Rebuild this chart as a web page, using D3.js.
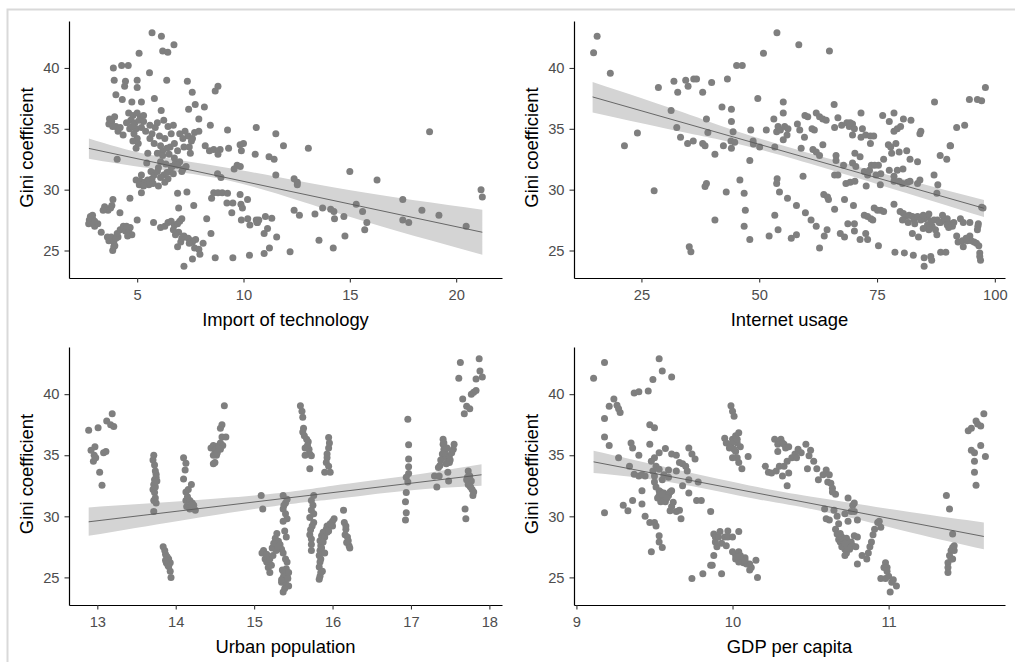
<!DOCTYPE html>
<html>
<head>
<meta charset="utf-8">
<script src="https://cdn.jsdelivr.net/npm/d3@7"></script>
<style>
  body { margin: 0; background: #fff; }
  svg { display: block; font-family: "Liberation Sans", Arial, sans-serif; }
</style>
</head>
<body>
<svg id="chart" width="1015" height="662"></svg>
<script>
// ---------------- DATA ----------------
const yTitle = "Gini coefficient";
const giniTicks = [25, 30, 35, 40];

const techTitle = "Import of technology";
const techTicks = [5, 10, 15, 20];
const techData = [
  [5.70,42.9],[6.14,42.6],[6.20,41.4],[6.44,41.3],[6.73,41.9],[5.09,41.2],
  [3.88,40.0],[4.27,40.2],[4.58,40.2],[5.58,39.6],[3.92,39.0],[4.45,38.9],[4.41,38.5],[5.0,39.0],[5.0,38.4],[6.39,39.0],[7.36,38.9],[7.59,38.0],[8.8,38.5],[8.67,38.1],
  [4.0,37.8],[4.3,37.4],[4.75,37.2],[5.81,37.5],[5.2,37.2],[7.42,36.6],[7.73,37.0],[8.16,36.8],[6.13,36.5],[7.9,35.8],[8.44,35.3],[9.25,34.9],[10.6,35.1],
  [3.7,35.8],[3.67,35.4],[3.94,36.0],[3.8,35.6],[4.0,35.2],[4.2,35.1],[4.1,34.8],[4.34,34.5],
  [4.6,36.3],[4.8,36.1],[5.0,36.3],[5.15,36.0],[4.7,35.7],[4.9,35.5],[5.1,35.7],[5.3,35.6],[4.95,35.0],[5.2,35.1],[4.65,35.0],[4.85,34.6],[5.0,34.2],[4.8,34.0],[5.05,33.8],[4.95,33.4],
  [5.3,36.1],[4.75,35.2],[5.6,34.2],[6.2,33.2],[6.55,33.5],[5.4,34.8],[6.8,32.2],[7.25,34.8],[6.0,31.8],[5.2,31.2],[5.7,30.9],[6.25,31.2],[4.5,35.5],[3.85,35.2],
  [5.6,35.3],[5.85,35.1],[5.95,35.5],[6.25,35.7],[6.45,35.2],[6.7,35.3],[5.7,34.6],[6.05,34.4],[6.3,34.2],[6.6,34.6],[5.8,33.8],[6.1,33.6],[6.4,33.4],[6.75,33.8],[5.95,33.0],[6.2,32.8],[6.5,32.9],[6.75,32.6],[6.1,32.3],[6.35,32.1],[6.6,31.9],[5.5,33.0],[5.45,32.2],[4.06,32.5],
  [7.0,34.6],[7.15,34.2],[7.4,34.4],[7.55,34.0],[7.7,34.7],[7.9,34.8],[7.2,33.5],[7.45,33.5],[6.9,33.2],[7.5,33.0],[7.0,32.3],[7.15,31.7],[7.3,31.9],[7.6,34.2],
  [8.2,33.6],[8.4,33.2],[8.6,33.3],[8.9,33.3],[8.8,32.9],[9.3,33.4],[9.84,33.7],[10.0,33.8],[9.9,33.2],[10.55,32.9],[9.7,32.0],[9.85,31.9],[9.56,31.7],[8.78,31.3],[8.94,31.0],
  [4.95,30.8],[5.15,30.7],[5.35,30.6],[5.5,30.8],[5.1,30.4],[5.65,31.5],[5.8,31.2],[5.95,31.5],[6.1,31.0],[6.3,30.6],[6.45,30.9],[5.75,30.5],[6.0,30.3],[5.55,30.4],[5.3,30.3],[6.55,31.5],[6.65,31.9],[6.4,31.4],[6.7,31.3],[6.9,32.0],[7.1,31.5],[5.2,29.75],[4.66,29.3],
  [3.86,29.2],[3.81,28.7],[3.75,28.5],[3.63,28.3],[4.19,28.1],[3.47,28.6],[3.4,28.3],
  [2.8,27.8],[2.9,27.6],[2.75,27.5],[2.72,27.2],[2.95,27.2],[3.0,27.0],[3.15,27.2],[2.9,27.9],[3.0,27.4],
  [3.31,26.5],[3.6,26.1],[3.67,25.8],[3.78,26.1],[3.9,25.7],[4.0,26.0],[4.1,26.1],[3.95,25.4],[3.85,25.0],[3.9,25.3],[4.06,26.4],[4.2,26.7],[4.35,27.0],[4.45,26.6],[4.6,26.6],[4.67,26.9],[4.75,26.3],[4.55,26.2],[4.5,27.0],
  [5.0,27.5],[5.77,27.3],
  [6.1,26.9],[6.3,27.0],[6.45,27.3],[6.6,27.4],[6.75,27.1],[6.9,27.2],[7.0,27.4],[7.1,27.6],[6.95,26.5],[6.8,26.3],[6.7,26.7],[6.9,25.3],[7.05,25.7],[7.1,26.0],[7.2,26.2],
  [6.9,29.7],[7.34,29.8],[6.95,28.5],[7.66,28.7],[8.5,29.3],[8.6,29.75],[8.8,29.75],[9.0,29.75],[9.25,29.7],[9.22,28.9],[9.45,28.1],[9.5,28.9],[9.84,29.6],[10.19,29.2],[9.88,28.8],[9.95,28.5],[9.9,27.5],[10.2,27.6],[10.3,27.1],[10.6,27.5],[10.66,27.3],[8.27,27.6],[8.47,26.4],
  [7.4,26.0],[7.55,25.8],[7.75,25.9],[7.6,25.7],[7.45,25.6],[7.7,25.2],[7.9,25.1],[7.95,24.7],[7.6,24.3],[8.1,25.6],[7.2,23.7],[8.67,24.4],[9.5,24.4],[10.28,24.6],
  [11.52,34.6],[11.88,33.6],[13.05,33.4],[11.2,32.7],[11.44,32.5],[11.52,31.2],[12.38,30.9],[12.53,30.6],[12.53,30.4],[15.0,31.5],[16.28,30.8],[18.75,34.75],[17.49,29.2],[18.39,28.3],[19.19,27.9],[21.23,29.4],[21.17,30.0],[20.47,27.0],[15.3,28.8],[15.6,28.2],[15.8,27.3],[15.7,26.7],[17.49,27.5],[17.77,27.3],[13.72,28.5],[14.1,28.4],[14.25,28.2],[13.36,28.0],[14.28,27.6],[14.72,27.8],[12.38,28.3],[12.63,27.9],[11.03,27.8],[11.33,27.65],[10.63,27.3],[10.72,27.5],[11.13,26.8],[10.97,26.4],[11.56,26.1],[13.55,25.85],[14.77,26.2],[11.22,25.2],[10.97,24.75],[12.19,24.9],[14.22,25.2]
];
// fitted line (end points) and its confidence band
const techFitX = [2.73, 21.23];
const techFitY = [33.39, 26.5];
const techBandX = [2.73, 5.66, 9.88, 15.03, 21.23];
const techBandLo = [32.55, 31.75, 30.5, 27.75, 24.65];
const techBandHi = [34.2, 32.84, 31.6, 29.95, 28.35];

const netTitle = "Internet usage";
const netTicks = [25, 50, 75, 100];
const netData = [
  [14.85,41.26],[15.6,42.6],[18.4,39.56],[28.6,38.4],[21.4,33.6],[24.15,34.65],[27.7,29.9],
  [31.9,38.9],[32.7,38.0],[34.4,39.0],[34.9,38.5],[36.1,39.1],[36.7,39.1],[38.0,38.0],[39.9,38.8],
  [31.3,36.5],[32.5,35.1],[33.3,34.3],[34.8,33.8],[36.0,34.0],[38.0,33.8],[38.5,33.6],[38.8,35.8],[39.1,34.7],[40.6,32.9],
  [43.25,39.1],[45.2,40.2],[46.4,40.2],[42.1,36.8],[44.1,36.6],[44.1,35.6],[44.45,34.75],[44.0,34.0],[44.1,33.4],[44.8,33.9],[42.4,33.6],
  [48.2,34.9],[48.7,34.0],[48.75,33.75],[48.0,32.4],[45.9,30.8],[43.0,29.8],[46.8,29.7],[47.05,28.3],[38.8,30.5],[38.5,30.25],[40.6,27.5],[46.8,27.0],[48.0,25.9],[35.15,25.3],[35.5,24.9],
  [49.7,37.5],[50.9,41.2],[50.1,33.5],
  [53.76,42.9],[58.4,41.9],[64.9,41.4],[55.1,37.2],[65.9,37.0],[87.2,37.2],[94.6,37.4],[96.3,37.4],[97.2,37.3],[98.0,38.4],
  [53.1,35.8],[55.1,36.3],[54.0,35.2],[53.7,34.75],[54.5,34.9],[55.4,35.2],[56.1,35.0],[51.5,34.9],[55.1,34.1],[55.9,34.5],
  [58.1,35.4],[58.6,34.9],[59.6,34.3],[59.7,36.1],[60.3,36.0],[62.1,36.3],[62.8,36.0],[63.5,35.8],[64.2,35.7],[61.2,35.0],[61.7,34.9],
  [66.0,35.1],[66.7,35.9],[67.5,35.3],[68.6,35.5],[69.1,35.2],[69.8,35.4],[70.2,35.0],[69.3,35.5],
  [71.6,36.3],[71.9,35.0],[69.8,34.5],[71.6,34.3],[72.6,34.5],[73.6,34.4],[74.3,34.4],[73.6,33.8],
  [76.2,36.1],[77.6,35.6],[78.6,36.3],[80.6,35.8],[82.2,35.7],[79.3,35.0],[80.0,35.2],[78.6,34.8],[84.3,34.8],[84.1,34.6],[91.9,35.1],[93.6,35.3],[90.5,33.6],
  [53.3,33.5],[58.9,33.4],[61.4,33.3],[62.1,33.1],[63.5,33.7],[62.8,32.8],[66.3,32.8],[66.3,32.4],[70.3,33.0],[71.4,32.7],
  [77.4,33.7],[77.9,33.5],[79.0,33.8],[78.1,33.0],[79.7,33.1],[81.3,33.2],[82.0,32.5],[83.6,32.3],[76.4,32.5],
  [67.9,32.0],[69.8,32.2],[70.5,31.9],[59.3,31.1],[66.0,31.2],[66.7,31.2],
  [72.3,31.5],[73.4,31.6],[73.8,32.0],[74.5,32.0],[75.3,32.0],[73.0,31.2],[72.7,30.3],[74.8,31.2],[75.7,30.4],[75.8,31.3],
  [68.4,30.5],[69.3,30.6],[70.3,30.7],[77.6,31.6],[78.6,31.1],[79.3,31.6],[80.5,31.7],
  [78.6,30.7],[79.7,30.7],[80.4,30.5],[81.5,30.6],[82.0,30.7],[83.6,30.5],[84.1,30.8],
  [87.1,31.2],[87.9,30.4],[87.7,29.7],[88.4,32.8],[89.8,32.5],[90.6,33.6],
  [53.8,30.9],[53.7,30.5],[54.3,29.8],[56.0,29.3],[57.9,28.7],[59.8,28.1],[61.0,27.5],[62.1,27.0],
  [63.7,29.6],[64.7,29.2],[64.5,29.4],[66.0,28.4],[68.1,29.2],[70.0,28.7],
  [53.3,27.9],[54.0,26.7],[52.1,26.2],[56.8,26.0],[57.9,26.3],[62.8,25.2],[63.8,26.2],[64.4,26.7],
  [67.2,26.4],[68.1,26.1],[68.8,27.2],[70.2,27.2],[70.2,26.6],[71.4,25.9],[72.6,26.4],[73.0,25.9],[75.3,25.4],
  [72.3,27.9],[73.0,27.8],[73.7,27.6],[74.1,27.5],[74.4,28.5],[75.1,28.3],[75.8,28.3],[76.4,28.2],[78.6,28.8],
  [79.9,28.2],[80.6,28.05],[81.1,27.8],[81.8,27.9],[80.4,27.5],[81.6,27.3],[82.5,27.8],[82.9,27.5],[83.6,27.8],[84.3,27.5],
  [85.1,27.6],[85.7,27.8],[86.4,27.4],[87.1,27.5],[87.8,27.5],[88.5,27.3],[89.2,27.5],[89.9,27.6],[90.6,27.2],[91.3,27.3],
  [85.7,27.1],[86.7,27.0],[87.4,26.7],[88.2,27.3],[86.0,26.7],[89.9,27.1],[91.0,27.0],
  [84.8,27.9],[86.0,28.0],[88.9,27.9],[83.0,27.2],[90.2,26.9],
  [82.5,26.4],[83.8,26.1],[84.8,26.8],[87.7,26.3],
  [92.7,27.6],[93.3,27.3],[94.7,27.3],[96.5,27.2],[96.4,27.0],[96.3,26.7],
  [91.9,26.2],[92.2,25.7],[93.1,25.8],[93.3,25.3],[94.1,25.8],[94.7,26.2],[95.0,25.8],[95.6,25.7],[96.1,25.6],[96.6,25.4],[96.8,24.8],[96.96,24.2],[96.8,24.5],
  [93.9,26.0],[97.2,28.55],[97.5,28.5],
  [78.8,24.85],[80.8,24.8],[82.7,24.6],[85.0,24.4],[85.0,23.7],[86.4,24.5],[86.6,24.2],[88.5,24.85],[89.6,24.85]
];
const netFitX = [14.64, 97.7];
const netFitY = [37.62, 28.47];
const netBandX = [14.64, 34.24, 50.1, 75.1, 97.7];
const netBandLo = [36.34, 34.7, 33.3, 30.45, 27.75];
const netBandHi = [38.85, 36.3, 34.2, 31.45, 29.15];

const urbanTitle = "Urban population";
const urbanTicks = [13, 14, 15, 16, 17, 18];
const urbanData = [
  [12.89,37.05],[13.01,37.25],[13.12,37.8],[13.17,37.5],[13.21,37.35],[13.19,38.4],
  [12.97,35.7],[12.92,35.4],[12.96,35.0],[12.95,34.5],[12.98,34.8],[13.08,35.2],[13.11,35.3],[13.03,33.6],[13.06,32.55],
  [13.72,35.0],[13.71,34.6],[13.74,33.7],[13.75,33.45],[13.73,33.0],[13.72,32.6],[13.71,32.2],[13.73,31.95],[13.74,31.5],[13.72,31.3],[13.75,31.1],[13.72,30.4],[13.75,33.2],[13.76,32.9],[13.74,32.4],[13.74,32.8],[13.73,34.2],
  [13.84,27.5],[13.86,27.2],[13.87,26.9],[13.89,26.6],[13.91,26.5],[13.88,26.2],[13.93,26.2],[13.91,25.9],[13.93,25.5],[13.94,25.0],[13.89,26.7],[13.9,26.0],[13.87,26.4],
  [14.1,34.8],[14.13,34.35],[14.12,33.8],[14.1,33.05],[14.13,32.0],[14.16,32.2],[14.2,32.6],[14.13,31.3],[14.18,31.3],[14.21,31.1],[14.18,30.6],[14.23,30.9],[14.25,30.5],[14.14,30.8],[14.15,31.6],[14.2,30.9],
  [14.48,35.8],[14.45,35.6],[14.5,35.4],[14.55,35.8],[14.57,36.0],[14.48,35.0],[14.52,35.0],[14.48,34.3],[14.55,35.6],[14.6,35.8],[14.59,36.5],[14.57,37.2],[14.59,37.5],[14.62,39.05],[14.64,36.5],[14.5,34.4],[14.53,35.2],[14.57,35.5],
  [15.09,31.7],[15.11,30.6],
  [15.12,27.2],[15.14,26.5],[15.16,26.25],[15.18,25.8],[15.2,25.4],[15.23,27.4],[15.25,27.8],[15.27,28.2],[15.29,28.6],[15.31,27.95],[15.33,27.7],[15.35,27.3],[15.37,27.0],[15.2,26.5],[15.24,26.8],[15.28,27.2],
  [15.1,27.0],[15.16,26.9],[15.22,26.0],[15.3,27.5],
  [15.37,31.7],[15.4,31.1],[15.37,30.6],[15.4,30.2],[15.42,29.8],[15.37,29.6],[15.39,28.8],[15.4,26.5],[15.42,26.25],[15.41,25.7],[15.37,25.0],[15.35,24.6],[15.4,24.5],[15.44,24.3],[15.37,23.8],[15.42,25.1],[15.35,24.8],
  [15.38,25.3],[15.43,24.9],[15.36,25.6],[15.44,25.4],[15.39,24.1],[15.41,28.3],[15.38,30.9],[15.42,31.4],
  [15.59,39.05],[15.61,38.6],[15.62,38.1],[15.62,36.9],[15.64,36.6],[15.67,36.3],[15.69,36.1],[15.65,35.6],[15.7,35.5],[15.71,35.1],[15.73,34.95],[15.71,33.9],[15.65,35.0],[15.68,35.8],[15.63,37.2],
  [15.76,31.7],[15.73,31.3],[15.75,30.9],[15.73,30.5],[15.71,29.9],[15.76,29.5],[15.71,28.5],[15.73,28.15],[15.73,27.7],[15.73,27.2],[15.76,30.2],[15.74,29.2],[15.72,28.9],
  [16.0,29.6],[15.93,29.2],[15.92,28.95],[15.88,28.7],[15.86,28.4],[15.84,28.0],[15.85,27.6],[15.84,27.2],[15.83,26.8],[15.84,26.25],[15.83,25.85],[15.84,25.1],[15.83,24.85],[15.9,28.3],[15.88,27.9],[15.86,27.4],[15.93,28.7],[16.0,29.2],[15.95,28.8],
  [15.85,26.5],[15.87,25.5],[15.85,25.4],[15.9,27.0],[15.97,29.4],[16.02,29.8],
  [15.95,36.45],[15.96,36.0],[15.95,35.6],[15.93,35.1],[15.93,34.8],[15.92,34.4],[15.95,34.1],[15.9,33.6],[15.97,33.6],
  [16.14,30.5],[16.15,29.5],[16.17,28.95],[16.16,28.5],[16.19,28.3],[16.18,27.85],[16.21,27.6],[16.22,27.4],[16.17,29.2],[16.2,28.0],
  [16.96,37.95],[16.97,35.85],[16.97,34.7],[16.97,34.05],[16.97,33.5],[16.94,33.2],[16.96,32.8],[16.94,31.95],[16.93,31.2],[16.94,30.3],[16.93,29.7],
  [17.41,36.3],[17.41,35.9],[17.42,35.5],[17.4,35.1],[17.43,34.95],[17.45,34.8],[17.49,34.95],[17.52,35.2],[17.55,35.9],[17.54,35.5],[17.49,34.4],[17.45,34.3],[17.47,33.6],[17.48,32.9],[17.37,34.15],[17.35,34.0],[17.3,33.3],[17.36,33.3],[17.33,32.4],
  [17.43,35.3],[17.46,35.6],[17.42,36.0],[17.5,34.6],[17.38,34.6],
  [17.73,33.7],[17.75,33.3],[17.71,33.0],[17.77,32.9],[17.75,32.5],[17.78,32.2],[17.79,31.7],[17.73,32.6],[17.69,30.6],[17.7,29.8],[17.76,32.4],[17.72,33.2],[17.8,32.0],
  [17.63,42.6],[17.61,41.3],[17.66,39.6],[17.68,38.4],[17.71,39.0],[17.75,38.8],[17.77,40.0],[17.8,40.15],[17.83,40.3],[17.83,41.25],[17.88,41.9],[17.91,41.4],[17.87,42.9]
];
const urbanFitX = [12.89, 17.9];
const urbanFitY = [29.55, 33.4];
const urbanBandX = [12.89, 15.0, 16.0, 16.94, 17.9];
const urbanBandLo = [28.4, 30.6, 31.4, 32.1, 32.5];
const urbanBandHi = [30.73, 31.7, 32.5, 33.3, 34.27];

const gdpTitle = "GDP per capita";
const gdpTicks = [9, 10, 11];
const gdpData = [
  [9.11,41.3],[9.18,42.6],[9.24,39.6],[9.21,39.0],[9.26,39.1],[9.27,38.8],[9.28,38.5],[9.18,38.0],[9.18,36.5],[9.21,35.8],[9.18,30.3],
  [9.27,34.8],[9.34,34.1],[9.35,36.0],[9.36,35.6],[9.37,40.1],[9.40,40.2],[9.40,35.0],[9.3,30.9],[9.33,30.45],[9.36,31.3],
  [9.37,33.45],[9.4,33.3],[9.42,33.4],[9.44,33.3],[9.42,32.1],[9.42,31.0],[9.44,30.0],[9.47,29.5],[9.46,40.25],[9.47,37.5],[9.5,37.25],[9.47,35.9],[9.48,27.1],
  [9.48,34.5],[9.5,34.8],[9.49,33.7],[9.5,33.3],[9.49,41.2],[9.53,42.9],[9.55,41.9],[9.61,41.4],[9.53,35.2],[9.57,35.55],[9.51,34.1],[9.53,33.85],
  [9.5,32.8],[9.51,32.4],[9.53,32.1],[9.53,31.7],[9.54,32.0],[9.55,31.5],[9.56,31.9],[9.57,31.2],[9.59,31.7],[9.6,32.0],[9.61,32.1],[9.62,31.15],[9.64,30.4],[9.6,30.45],[9.61,30.8],[9.54,31.2],[9.52,31.5],[9.55,33.0],[9.56,33.4],[9.59,33.2],[9.55,31.8],[9.58,31.5],
  [9.5,29.5],[9.51,29.2],[9.53,28.4],[9.53,27.9],[9.55,27.45],
  [9.61,35.1],[9.64,35.0],[9.66,34.4],[9.68,34.3],[9.7,34.1],[9.59,33.8],[9.64,33.7],[9.67,29.8],[9.66,30.5],
  [9.71,33.7],[9.72,33.0],[9.72,35.6],[9.74,35.1],[9.76,34.7],[9.68,32.5],[9.72,31.9],[9.78,32.8],[9.77,31.3],[9.8,31.3],
  [9.74,24.9],[9.81,25.3],[9.86,30.4],
  [9.88,28.55],[9.89,28.3],[9.89,27.9],[9.91,28.3],[9.9,27.5],[9.88,26.8],[9.93,27.8],[9.95,28.3],[9.96,27.6],[9.97,28.3],[10.0,28.3],[9.97,28.8],[10.0,27.1],[10.02,26.8],[10.04,27.1],[10.05,26.5],[10.06,26.4],[10.07,26.2],[10.08,26.6],[10.09,26.1],[10.11,26.1],[10.12,25.8],[10.15,26.4],[10.04,28.75],[9.92,28.75],[9.87,26.0],[9.93,25.3],[9.86,26.0],[10.16,25.0],[10.11,25.6],[10.02,26.5],[10.04,26.25],
  [10.05,26.8],[10.08,26.4],[10.03,26.7],
  [9.99,39.05],[10.0,38.6],[10.01,38.2],[9.95,36.4],[9.96,36.0],[9.98,35.6],[9.99,35.9],[10.0,36.3],[10.02,36.6],[10.03,36.0],[10.04,36.85],[10.03,34.8],[10.04,34.4],[10.06,33.9],[10.05,35.7],[10.01,36.1],[10.0,34.8],[10.02,35.3],[10.1,34.9],[10.01,35.5],[10.03,36.3],
  [10.21,34.1],[10.23,33.6],[10.25,33.55],[10.28,33.7],[10.32,33.3],[10.3,34.1],[10.33,34.1],[10.36,33.55],[10.35,34.5],[10.38,34.8],[10.4,35.1],[10.42,35.5],[10.41,34.8],[10.44,35.2],[10.47,35.9],[10.49,34.95],[10.5,35.4],[10.48,33.9],[10.52,34.5],[10.54,33.9],[10.55,33.0],[10.58,33.4],[10.6,33.8],[10.62,33.4],[10.61,32.8],[10.63,32.7],[10.64,32.3],[10.66,31.8],[10.64,32.0],[10.35,32.5],[10.27,36.3],[10.29,35.9],[10.31,36.3],[10.32,36.0],[10.33,35.9],[10.29,35.3],[10.34,35.6],[10.36,35.7],
  [10.59,30.6],[10.65,30.5],[10.6,29.8],[10.62,29.7],[10.67,30.0],[10.68,29.4],[10.66,28.95],[10.67,28.55],[10.68,28.1],[10.69,27.9],[10.71,27.6],[10.72,27.3],[10.73,27.0],[10.7,28.3],[10.74,27.7],[10.76,27.9],[10.77,27.6],[10.78,28.4],[10.8,28.3],[10.79,27.5],[10.75,27.3],[10.72,26.8],[10.72,30.2],[10.74,29.6],[10.76,30.4],[10.78,30.4],[10.8,29.7],[10.74,31.5],
  [10.7,27.5],[10.71,28.0],[10.73,28.2],[10.69,28.6],[10.74,27.4],[10.72,27.8],
  [10.77,30.9],[10.78,31.1],
  [10.8,26.1],[10.83,26.8],[10.86,26.5],[10.87,27.0],[10.89,27.9],[10.9,28.5],[10.91,28.95],[10.94,29.6],[10.95,29.1],[10.93,29.5],[10.88,27.5],
  [10.98,26.2],[10.97,25.8],[10.99,25.8],[10.95,24.9],[10.98,24.9],[11.0,25.1],[11.02,24.6],[11.03,24.8],[11.05,24.3],[11.01,23.8],[10.99,25.5],
  [11.37,31.7],[11.39,30.6],
  [11.41,28.55],[11.41,27.45],[11.4,27.2],[11.42,27.2],[11.39,26.8],[11.41,26.5],[11.38,26.2],[11.38,25.8],[11.38,25.4],[11.4,26.5],[11.42,27.6],
  [11.51,37.0],[11.53,37.2],[11.56,37.8],[11.57,37.55],[11.59,37.4],[11.61,38.4],[11.53,35.4],[11.55,35.2],[11.55,34.5],[11.55,33.6],[11.56,32.55],[11.59,35.8],[11.62,34.9]
];
const gdpFitX = [9.11, 11.61];
const gdpFitY = [34.46, 28.35];
const gdpBandX = [9.11, 9.61, 10.16, 10.56, 11.135, 11.61];
const gdpBandLo = [33.54, 32.77, 31.4, 30.45, 28.7, 27.3];
const gdpBandHi = [35.36, 33.92, 32.4, 31.5, 30.35, 29.5];

// ---------------- LAYOUT ----------------
const panels = [
  { data: techData,  title: techTitle,  ticks: techTicks,  fitX: techFitX,  fitY: techFitY,  bandX: techBandX,  lo: techBandLo,  hi: techBandHi,  x0: 69,  x1: 502,  y0: 21,  y1: 278 },
  { data: netData,   title: netTitle,   ticks: netTicks,   fitX: netFitX,   fitY: netFitY,   bandX: netBandX,   lo: netBandLo,   hi: netBandHi,   x0: 574, x1: 1005, y0: 21,  y1: 278 },
  { data: urbanData, title: urbanTitle, ticks: urbanTicks, fitX: urbanFitX, fitY: urbanFitY, bandX: urbanBandX, lo: urbanBandLo, hi: urbanBandHi, x0: 69,  x1: 502,  y0: 347, y1: 605 },
  { data: gdpData,   title: gdpTitle,   ticks: gdpTicks,   fitX: gdpFitX,   fitY: gdpFitY,   bandX: gdpBandX,   lo: gdpBandLo,   hi: gdpBandHi,   x0: 574, x1: 1005, y0: 347, y1: 605 }
];

const svg = d3.select("#chart");

// outer light frame
svg.append("rect")
  .attr("x", 7.5).attr("y", 9.5).attr("width", 1012).attr("height", 665)
  .attr("fill", "none").attr("stroke", "#d9d9d9").attr("stroke-width", 2);

// shared y domain (ggplot-style 5% expansion)
const allGini = panels.flatMap(p => p.data.map(d => d[1]));
const gExt = d3.extent(allGini);
const gPad = (gExt[1] - gExt[0]) * 0.05;
const yDomain = [gExt[0] - gPad, gExt[1] + gPad];

panels.forEach(p => {
  const xe = d3.extent(p.data, d => d[0]);
  const xp = (xe[1] - xe[0]) * 0.05;
  const x = d3.scaleLinear().domain([xe[0] - xp, xe[1] + xp]).range([p.x0, p.x1]);
  const y = d3.scaleLinear().domain(yDomain).range([p.y1, p.y0]);
  const g = svg.append("g");

  // confidence band
  const band = p.bandX.map((bx, i) => ({ x: bx, lo: p.lo[i], hi: p.hi[i] }));
  g.append("path")
    .datum(band)
    .attr("fill", "#d4d4d4")
    .attr("d", d3.area().curve(d3.curveNatural).x(d => x(d.x)).y0(d => y(d.lo)).y1(d => y(d.hi)));

  // points
  g.append("g").selectAll("circle").data(p.data).join("circle")
    .attr("cx", d => x(d[0])).attr("cy", d => y(d[1]))
    .attr("r", 3.5).attr("fill", "#7f7f7f");

  // fitted line
  const fit = p.fitX.map((fx, i) => [fx, p.fitY[i]]);
  g.append("path")
    .datum(fit)
    .attr("fill", "none").attr("stroke", "#5a5a5a").attr("stroke-width", 0.9)
    .attr("d", d3.line().x(d => x(d[0])).y(d => y(d[1])));

  // axes
  const xAxis = g.append("g").attr("transform", `translate(0,${p.y1})`)
    .call(d3.axisBottom(x).tickValues(p.ticks).tickFormat(d3.format("d"))
      .tickSize(4.5).tickSizeOuter(0).tickPadding(7.5));
  const yAxis = g.append("g").attr("transform", `translate(${p.x0},0)`)
    .call(d3.axisLeft(y).tickValues(giniTicks).tickFormat(d3.format("d"))
      .tickSize(4.5).tickSizeOuter(0).tickPadding(5));
  [xAxis, yAxis].forEach(a => {
    a.select(".domain").attr("stroke", "#000").attr("stroke-width", 1.2);
    a.selectAll(".tick line").attr("stroke", "#333").attr("stroke-width", 1.1);
    a.selectAll(".tick text").attr("fill", "#4d4d4d").style("font-size", "14.7px")
      .style("font-family", '"Liberation Sans", Arial, sans-serif');
  });

  // axis titles
  g.append("text")
    .attr("x", (p.x0 + p.x1) / 2).attr("y", p.y1 + 48)
    .attr("text-anchor", "middle").attr("fill", "#000")
    .style("font-size", "18.4px").text(p.title);
  g.append("text")
    .attr("transform", `translate(${p.x0 - 35.7},${(p.y0 + p.y1) / 2 - 2}) rotate(-90)`)
    .attr("text-anchor", "middle").attr("fill", "#000")
    .style("font-size", "18.4px").text(yTitle);
});
</script>
</body>
</html>
